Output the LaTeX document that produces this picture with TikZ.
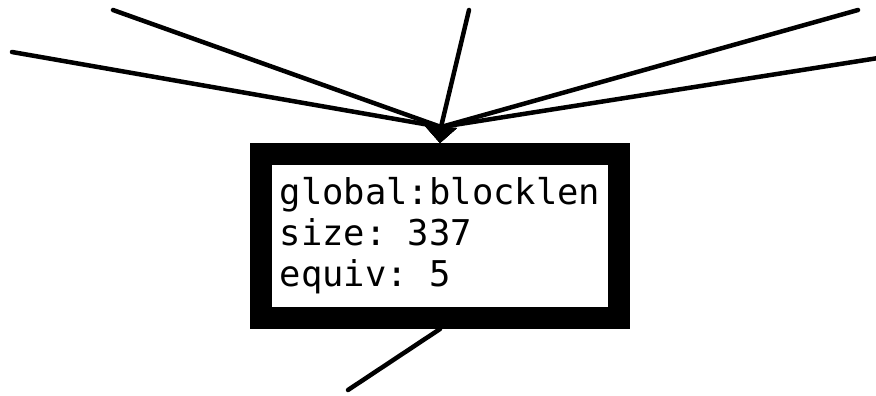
\documentclass[tikz,border=0pt]{standalone}
\usepackage{fontspec}
\setmonofont{DejaVu Sans Mono}
\usetikzlibrary{arrows.meta}

\begin{document}
\begin{tikzpicture}[
    x=1pt, y=-1pt,
    blockbox/.style={rectangle, draw, line width=22pt, minimum width=358pt, minimum height=164pt, inner sep=0pt, align=left, font=\ttfamily\fontsize{35.5}{41}\selectfont},
    edge/.style={line width=4.5pt, line cap=round, line join=round},
    into/.style={edge, -{Triangle[width=32pt,length=16pt,line width=0pt]}}
]
    \useasboundingbox (0,0) rectangle (876,396);

    % The block
    \node [blockbox] (blk) at (440,236) {global:blocklen\\size: 337\\equiv: 5};

    % Loose ends of the edges
    \coordinate (hub) at (441,127);
    \coordinate (src1) at (12,52);
    \coordinate (src2) at (113,10);
    \coordinate (src3) at (469,10);
    \coordinate (src4) at (858,10);
    \coordinate (src5) at (910,53);
    \coordinate (dst) at (348,390);

    % Incoming edges
    \draw [into] (src1) -- (hub) -- (blk.north);
    \draw [into] (src2) -- (hub) -- (blk.north);
    \draw [into] (src3) -- (hub) -- (blk.north);
    \draw [into] (src4) -- (hub) -- (blk.north);
    \draw [into] (src5) -- (hub) -- (blk.north);

    % Outgoing edge
    \draw [edge] (blk.south) -- (dst);
\end{tikzpicture}
\end{document}
